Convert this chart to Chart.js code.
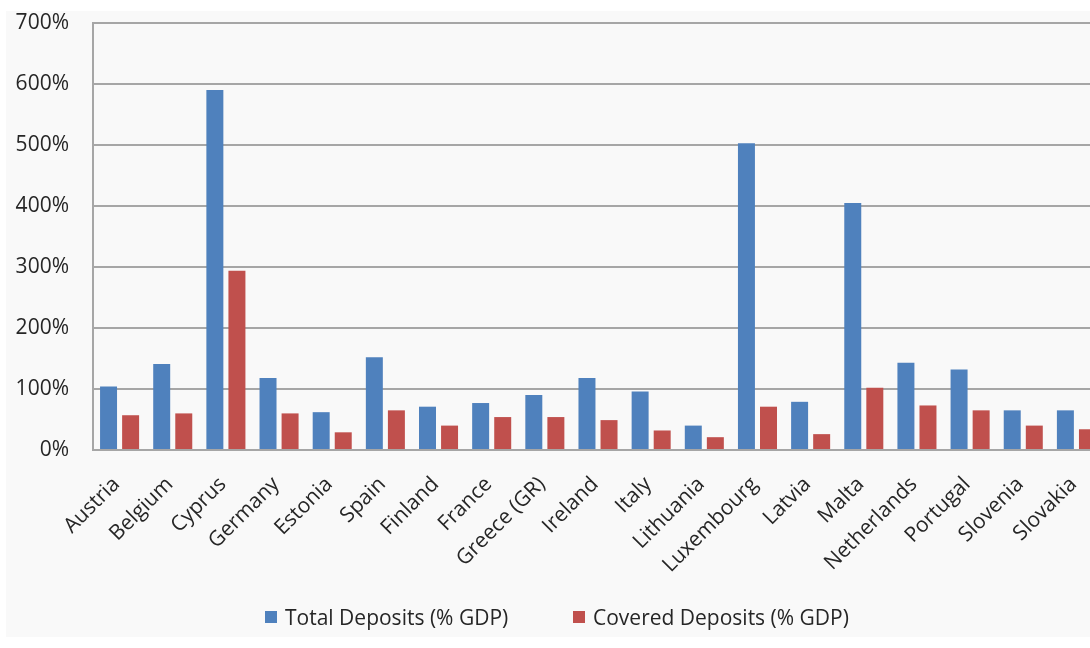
<!DOCTYPE html>
<html>
<head>
<meta charset="utf-8">
<script src="https://cdn.jsdelivr.net/npm/chart.js@4.4.0/dist/chart.umd.min.js"></script>
<style>
  html, body { margin: 0; padding: 0; background: #ffffff; overflow: hidden; width: 1090px; height: 648px; }
  #wrap { position: absolute; left: 6px; top: 11px; width: 1099px; height: 626px; background: #f9f9f9; }
  canvas { display: block; }
  .leg { position: absolute; top: 603px; height: 28px; display: flex; align-items: center;
         font-family: 'Open Sans', 'Noto Sans', sans-serif; font-size: 21px; color: #262626; white-space: nowrap; }
  .leg .box { width: 12px; height: 12px; margin-right: 8px; }
</style>
</head>
<body>
<div id="wrap"><canvas id="c" width="1099" height="626"></canvas></div>
<div class="leg" id="leg0" style="left:265px"><span class="box" style="background:#4f81bd"></span><span id="legt0"></span></div>
<div class="leg" id="leg1" style="left:573px"><span class="box" style="background:#c0504d"></span><span id="legt1"></span></div>
<script>
const categories = ["Austria", "Belgium", "Cyprus", "Germany", "Estonia", "Spain", "Finland", "France", "Greece (GR)", "Ireland", "Italy", "Lithuania", "Luxembourg", "Latvia", "Malta", "Netherlands", "Portugal", "Slovenia", "Slovakia"];
const totalDeposits = [104, 141, 590, 118, 62, 152, 71, 77, 90, 118, 96, 40, 503, 79, 405, 143, 132, 65, 65];
const coveredDeposits = [57, 60, 294, 60, 29, 65, 40, 54, 54, 49, 32, 21, 71, 26, 102, 73, 65, 40, 34];
const yTicks = [0, 100, 200, 300, 400, 500, 600, 700];
const seriesNames = ["Total Deposits (% GDP)", "Covered Deposits (% GDP)"];
const seriesColors = ['#4f81bd', '#c0504d'];

document.getElementById('legt0').textContent = seriesNames[0];
document.getElementById('legt1').textContent = seriesNames[1];

const FONT = "'Open Sans', 'Noto Sans', sans-serif";

new Chart(document.getElementById('c'), {
  type: 'bar',
  data: {
    labels: categories,
    datasets: [
      { label: seriesNames[0], data: totalDeposits, backgroundColor: seriesColors[0], borderWidth: 0 },
      { label: seriesNames[1], data: coveredDeposits, backgroundColor: seriesColors[1], borderWidth: 0 }
    ]
  },
  options: {
    responsive: false,
    animation: false,
    devicePixelRatio: 1,
    categoryPercentage: 0.83,
    barPercentage: 0.77,
    layout: { padding: { top: 12, left: 0, right: 2, bottom: 0 } },
    plugins: {
      legend: { display: false },
      tooltip: { enabled: false }
    },
    scales: {
      x: {
        grid: { display: false, drawTicks: false },
        border: { display: true, color: '#a6a6a6', width: 2 },
        ticks: {
          font: { family: FONT, size: 21 },
          color: '#262626',
          minRotation: 45,
          maxRotation: 45,
          padding: 22,
          labelOffset: -3,
          autoSkip: false
        },
        afterFit: s => { s.height = 187; s.paddingLeft = 0; s.paddingRight = 0; }
      },
      y: {
        min: 0,
        max: 700,
        afterBuildTicks: s => { s.ticks = yTicks.map(v => ({ value: v })); },
        grid: { color: '#a6a6a6', lineWidth: 2, drawTicks: false },
        border: { display: true, color: '#a6a6a6', width: 2 },
        ticks: {
          font: { family: FONT, size: 21 },
          color: '#262626',
          padding: 24,
          callback: v => v + '%'
        },
        afterFit: s => { s.width = 87; s.paddingTop = 0; s.paddingBottom = 0; }
      }
    }
  }
});
</script>
</body>
</html>
